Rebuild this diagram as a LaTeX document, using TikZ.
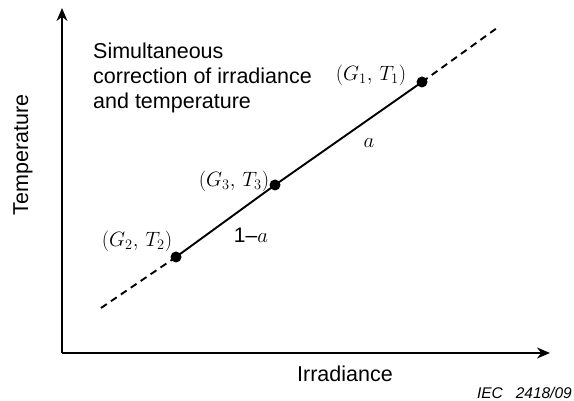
\documentclass[tikz,border=0pt]{standalone}
\usepackage{fontspec}
\setmainfont{Liberation Sans}
\usepackage{tikz}
\usetikzlibrary{arrows.meta}

\begin{document}
\begin{tikzpicture}[
  x=1pt, y=-1pt,
  axis/.style={line width=1.7pt, -{Stealth[length=13pt,width=11pt]}},
  dot/.style={circle, fill=black, inner sep=0pt, minimum size=11pt},
  label/.style={font=\fontsize{21.5}{25}\selectfont, inner sep=0pt},
  pt/.style={font=\fontsize{21}{25}\selectfont, inner sep=0pt}
]
\useasboundingbox (0,0) rectangle (574,401);
% axes
\coordinate (origin) at (62,353);
\coordinate (ytip) at (62,8);
\coordinate (xtip) at (550,353);
\draw[axis] (origin) -- (ytip);
\draw[axis] (origin) -- (xtip);
\node[label, rotate=90] (ylab) at (23,155) {Temperature};
\node[label] (xlab) at (345,374) {Irradiance};

% line through the points
\coordinate (lo) at (101,308);
\coordinate (hi) at (497,28);
\node[dot] (p2) at (176,257) {};
\node[dot] (p3) at (275,185) {};
\node[dot] (p1) at (422,82) {};
\draw[line width=1.9pt, dash pattern=on 7pt off 5pt] (lo) -- (p2.center);
\draw[line width=1.9pt] (p2.center) -- (p3.center) -- (p1.center);
\draw[line width=1.9pt, dash pattern=on 7pt off 5pt] (p1.center) -- (hi);

\node[pt] (g2) at (137,241) {$(G_2,\,T_2)$};
\node[pt] (g3) at (234,181) {$(G_3,\,T_3)$};
\node[pt] (g1) at (371,75) {$(G_1,\,T_1)$};
\node[pt] (wa) at (369,143) {$a$};
\node[pt] (wb) at (251,235) {1--$a$};

\node[label, anchor=north west, align=left] (title) at (93,43)
  {Simultaneous\\correction of irradiance\\and temperature};
\node[anchor=east, inner sep=0pt, font=\fontsize{15.5}{18}\selectfont\itshape] (ref) at (572,393) {IEC\ \ \ 2418/09};
\end{tikzpicture}
\end{document}
